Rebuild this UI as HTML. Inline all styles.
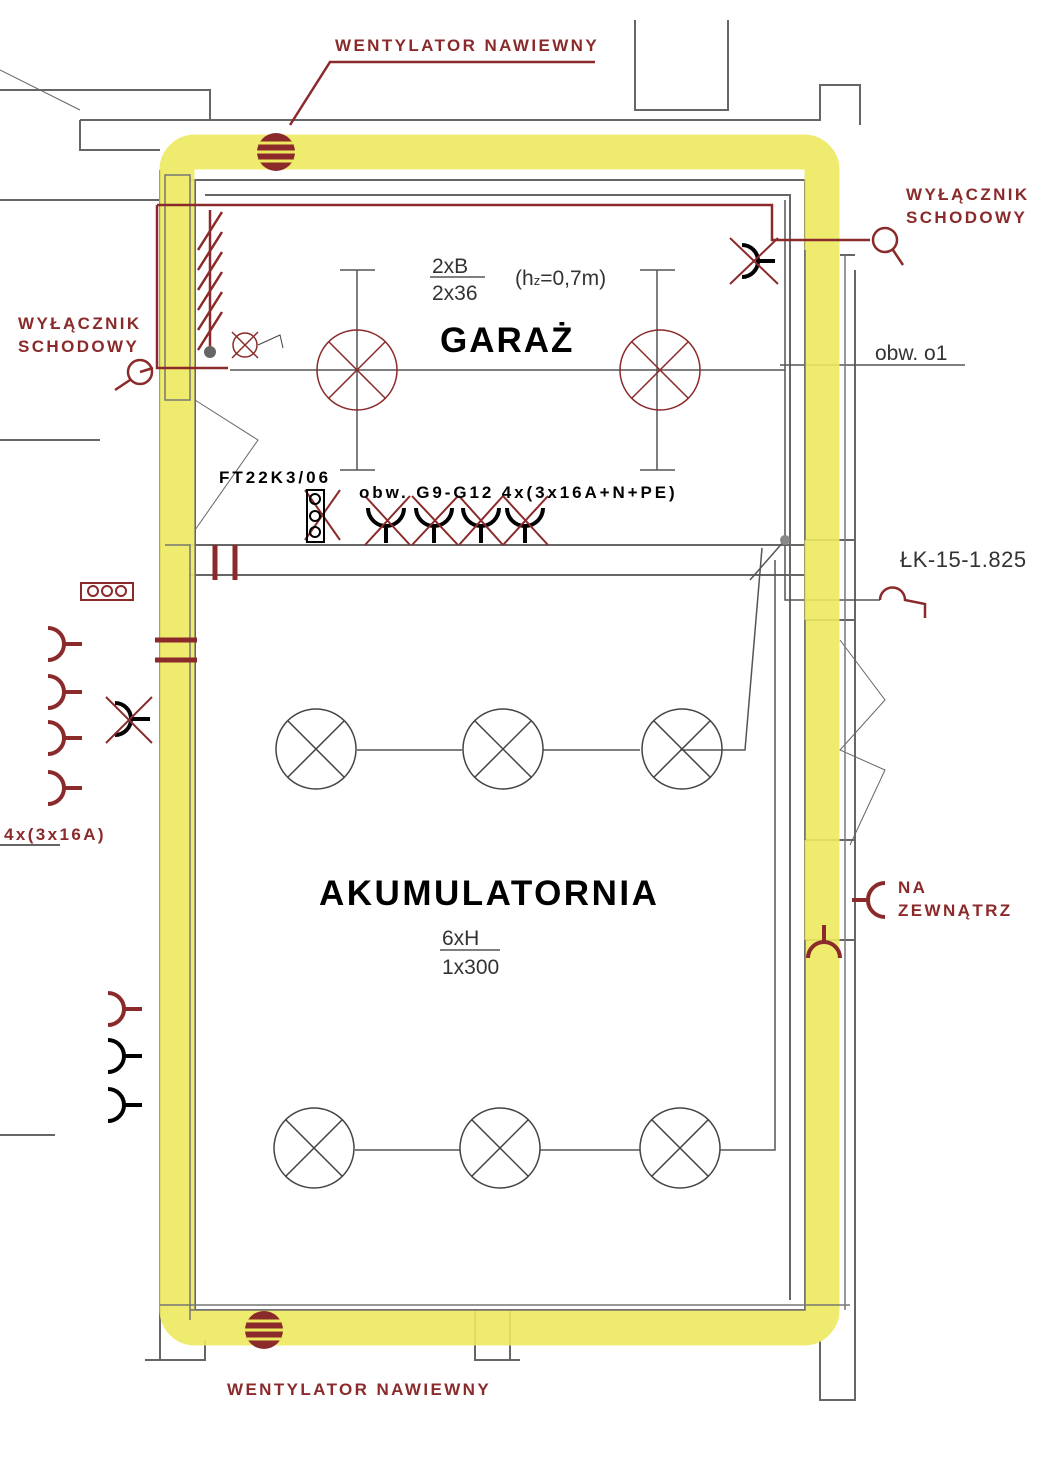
<!DOCTYPE html>
<html><head><meta charset="utf-8"><style>
html,body{margin:0;padding:0;background:#fff}
svg{display:block}
.t{font-family:"Liberation Sans","DejaVu Sans",sans-serif}
.r{fill:#8b2a2a;font-weight:bold;font-size:17px;letter-spacing:2.4px}
</style></head><body>
<svg width="1060" height="1472" viewBox="0 0 1060 1472" xmlns="http://www.w3.org/2000/svg" class="t">
<rect width="1060" height="1472" fill="#fff"/>
<g fill="none" stroke="#666" stroke-width="2">
<path d="M0 90 H210 V120"/>
<path d="M80 120 H820 V85 H860 V125"/>
<path d="M80 120 V150 H160"/>
<path d="M635 20 V110 H728 V20"/>
<path d="M160 170 V1340"/>
<path d="M195 180 V1310"/>
<path d="M190 180 H805 V1310 H190"/>
<path d="M205 195 H790 V1300"/>
<path d="M160 200 H0"/>
<path d="M855 270 V1310 M840 255 H855"/>
<path d="M190 545 H805 M190 575 H805"/>
<path d="M160 1340 V1360 H145 M205 1340 V1360 H145 M475 1310 V1360 H520 M510 1310 V1360"/>
<path d="M820 1340 V1400 H855 V1215"/>
<path d="M805 540 H855 V620 H805 M805 840 H855 V940 H805"/>
<path d="M0 440 H100 M0 845 H60 M0 1135 H55"/>
<path d="M195 400 L258 440 L195 530" stroke-width="1"/>
<path d="M840 640 L885 700 L840 750 L885 770 L850 845" stroke-width="1"/>
<path d="M0 70 L80 110" stroke-width="1"/>
</g>
<g fill="none" stroke="#555" stroke-width="1.5">
<path d="M340 270 H375 M357 270 V470 M340 470 H375"/>
<path d="M640 270 H675 M657 270 V470 M640 470 H675"/>
<path d="M230 370 H785"/>
<path d="M785 200 V540 L750 580"/>
<path d="M762 548 L745 750 H680 M598 750 H640 M357 750 H462 M543 750 H598"/>
<path d="M775 560 V1150 H720 M640 1150 H540 M460 1150 H355"/>
<path d="M785 540 V600 H880"/>
<path d="M780 365 H965"/>
<path d="M430 277 H485"/>
<path d="M440 950 H500"/>
</g>
<rect x="177" y="152" width="645" height="1176" rx="18" fill="none" stroke="#ede95f" stroke-width="35" opacity="0.9"/>
<g fill="none" stroke="#777" stroke-width="1.5">
<path d="M165 175 H190 V400 H165 Z M165 545 H190 V1320"/>
<path d="M805 250 V540 M805 620 V840 M805 940 V1310 H190"/>
<path d="M160 1305 H850 M845 255 V1310"/>
</g>
<g fill="none" stroke="#8b2a2a" stroke-width="1.5">
<ellipse cx="357" cy="370" rx="40" ry="40"/><path d="M329 342 L385 398 M385 342 L329 398"/>
<ellipse cx="660" cy="370" rx="40" ry="40"/><path d="M632 342 L688 398 M688 342 L632 398"/>
</g>
<g fill="none" stroke="#444" stroke-width="1.5">
<circle cx="316" cy="749" r="40"/><path d="M288 721 L344 777 M344 721 L288 777"/>
<circle cx="503" cy="749" r="40"/><path d="M475 721 L531 777 M531 721 L475 777"/>
<circle cx="682" cy="749" r="40"/><path d="M654 721 L710 777 M710 721 L654 777"/>
<circle cx="314" cy="1148" r="40"/><path d="M286 1120 L342 1176 M342 1120 L286 1176"/>
<circle cx="500" cy="1148" r="40"/><path d="M472 1120 L528 1176 M528 1120 L472 1176"/>
<circle cx="680" cy="1148" r="40"/><path d="M652 1120 L708 1176 M708 1120 L652 1176"/>
</g>
<g fill="none" stroke="#8b2a2a" stroke-width="2.5">
<path d="M157 205 H772 V240 H870"/>
<path d="M157 205 V368 H228"/>
<path d="M153 368 L140 372"/>
<circle cx="140" cy="372" r="12"/><path d="M130 380 L115 390"/>
<circle cx="885" cy="240" r="12"/><path d="M893 250 L903 265"/>
<path d="M595 62 H330 L290 125"/>
<path d="M880 600 A12 12 0 1 1 905 600 L925 604 V618"/>
<path d="M215 545 V580 M235 545 V580" stroke-width="5"/>
<path d="M155 640 H197 M155 660 H197" stroke-width="5"/>
</g>
<g stroke="#8b2a2a" stroke-width="2.5" fill="none">
<path d="M222 212 L198 250 M222 232 L198 270 M222 252 L198 290 M222 272 L198 310 M222 292 L198 330 M222 312 L198 350"/>
<path d="M210 210 V350"/>
</g>
<circle cx="210" cy="352" r="6" fill="#666"/>
<g stroke="#8b2a2a" fill="none" stroke-width="1.5"><circle cx="245" cy="345" r="12"/><path d="M232 332 L258 358 M258 332 L232 358"/></g>
<path d="M258 345 L280 335 L283 348" fill="none" stroke="#444"/>
<g><circle cx="276" cy="152" r="19" fill="#8b2a2a"/><path d="M259 143 H293 M257 152 H295 M259 161 H293" stroke="#ede95f" stroke-width="3"/></g>
<g><circle cx="264" cy="1330" r="19" fill="#8b2a2a"/><path d="M247 1321 H281 M245 1330 H283 M247 1339 H281" stroke="#ede95f" stroke-width="3"/></g>
<g fill="none" stroke="#8b2a2a" stroke-width="4">
<path d="M48 628 A16 16 0 0 1 48 660 M64 644 H82"/>
<path d="M48 676 A16 16 0 0 1 48 708 M64 692 H82"/>
<path d="M48 722 A16 16 0 0 1 48 754 M64 738 H82"/>
<path d="M48 772 A16 16 0 0 1 48 804 M64 788 H82"/>
<path d="M108 993 A16 16 0 0 1 108 1025 M124 1009 H142"/>
<path d="M885 883 A16 16 0 0 0 885 917 M869 900 H852"/>
<path d="M808 958 A16 16 0 0 1 840 958 M824 942 V925"/>
</g>
<g fill="none" stroke="#000" stroke-width="4">
<path d="M108 1040 A16 16 0 0 1 108 1072 M124 1056 H142"/>
<path d="M108 1089 A16 16 0 0 1 108 1121 M124 1105 H142"/>
<path d="M115 703 A16 16 0 0 1 115 735 M131 719 H150"/>
<path d="M742 245 A16 16 0 0 1 742 277 M758 261 H775"/>
<path d="M368 508 A18 18 0 0 0 404 508 M386 526 V543"/>
<path d="M416 508 A18 18 0 0 0 452 508 M434 526 V543"/>
<path d="M463 508 A18 18 0 0 0 499 508 M481 526 V543"/>
<path d="M507 508 A18 18 0 0 0 543 508 M525 526 V543"/>
</g>
<g stroke="#8b2a2a" stroke-width="2" fill="none">
<path d="M106 697 L152 743 M152 697 L106 743"/>
<path d="M730 238 L778 284 M778 238 L730 284"/>
<path d="M365 496 L410 545 M410 496 L365 545 M412 496 L458 545 M458 496 L412 545 M459 496 L503 545 M503 496 L459 545 M503 496 L548 545 M548 496 L503 545"/>
<path d="M305 490 L340 540 M340 490 L305 540"/>
</g>
<g fill="none" stroke="#000" stroke-width="2"><rect x="307" y="490" width="17" height="52"/><circle cx="315" cy="499" r="5"/><circle cx="315" cy="516" r="5"/><circle cx="315" cy="532" r="5"/></g>
<g fill="none" stroke="#8b2a2a" stroke-width="2"><rect x="81" y="583" width="52" height="17"/><circle cx="93" cy="591" r="5"/><circle cx="107" cy="591" r="5"/><circle cx="121" cy="591" r="5"/></g>
<circle cx="785" cy="540" r="5" fill="#888"/>
<text x="335" y="51" class="r">WENTYLATOR NAWIEWNY</text>
<text x="227" y="1395" class="r">WENTYLATOR NAWIEWNY</text>
<text x="906" y="200" class="r">WYŁĄCZNIK</text>
<text x="906" y="223" class="r">SCHODOWY</text>
<text x="18" y="329" class="r">WYŁĄCZNIK</text>
<text x="18" y="352" class="r">SCHODOWY</text>
<text x="4" y="840" class="r">4x(3x16A)</text>
<text x="898" y="893" class="r">NA</text>
<text x="898" y="916" class="r">ZEWNĄTRZ</text>
<text x="440" y="352" font-size="35" font-weight="bold" letter-spacing="2">GARAŻ</text>
<text x="319" y="905" font-size="35" font-weight="bold" letter-spacing="2.5">AKUMULATORNIA</text>
<text x="219" y="483" font-size="17" font-weight="bold" letter-spacing="3">FT22K3/06</text>
<text x="359" y="498" font-size="17" font-weight="bold" letter-spacing="2.9">obw. G9-G12 4x(3x16A+N+PE)</text>
<text x="432" y="273" font-size="21" fill="#333">2xB</text>
<text x="432" y="300" font-size="21" fill="#333">2x36</text>
<text x="515" y="285" font-size="21" fill="#333">(h<tspan font-size="13">z</tspan>=0,7m)</text>
<text x="875" y="360" font-size="21" fill="#333">obw. o1</text>
<text x="900" y="567" font-size="22" fill="#333" letter-spacing="0.5">ŁK-15-1.825</text>
<text x="442" y="945" font-size="21" fill="#333">6xH</text>
<text x="442" y="974" font-size="21" fill="#333">1x300</text>
</svg>
</body></html>
